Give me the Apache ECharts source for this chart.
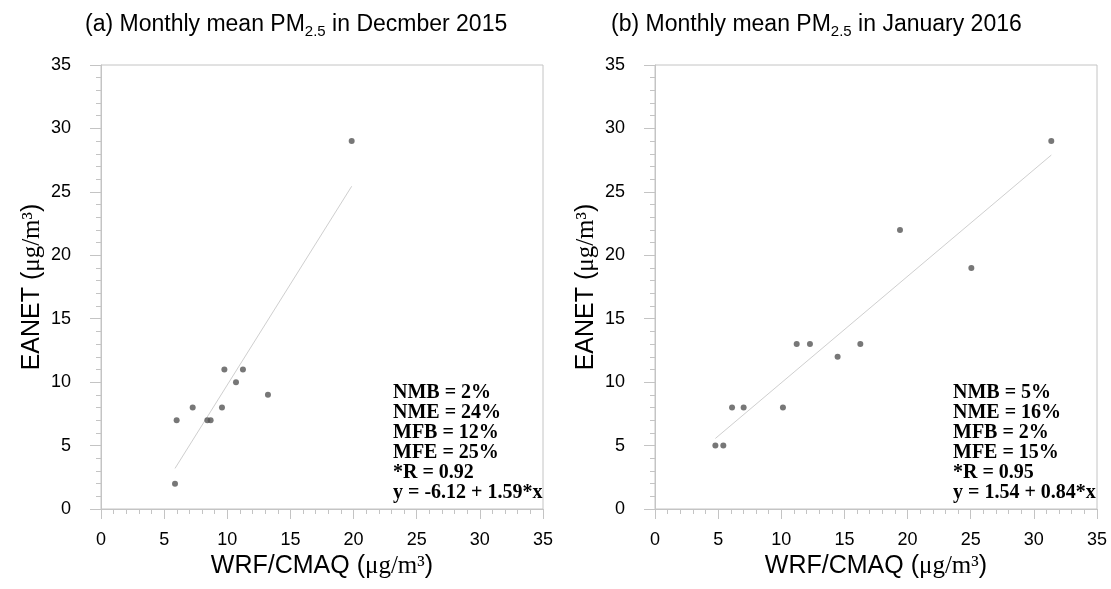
<!DOCTYPE html>
<html>
<head>
<meta charset="utf-8">
<title>PM2.5 WRF/CMAQ vs EANET</title>
<script src="https://cdn.jsdelivr.net/npm/echarts@6/dist/echarts.min.js"></script>
<style>
  html, body { margin: 0; padding: 0; background: #fff; }
  #main { width: 1111px; height: 589px; }
</style>
</head>
<body>
<div id="main"></div>
<script>
// (a) December 2015: [WRF/CMAQ, EANET]
var decPoints = [
    [19.85, 29], [9.77, 11], [11.24, 11], [10.69, 10], [13.22, 9],
    [7.26, 8], [9.58, 8], [5.99, 7], [8.42, 7], [8.68, 7], [5.86, 2]
];
var decFitLine = [[5.86, 3.20], [19.85, 25.44]];
var decStats = ['NMB = 2%', 'NME = 24%', 'MFB = 12%', 'MFE = 25%', '*R = 0.92', 'y = -6.12 + 1.59*x'];

// (b) January 2016
var janPoints = [
    [31.38, 29], [19.40, 22], [25.05, 19], [11.22, 13], [12.27, 13], [16.26, 13],
    [14.46, 12], [6.10, 8], [7.02, 8], [10.13, 8], [4.78, 5], [5.41, 5]
];
var janFitLine = [[4.78, 5.56], [31.38, 27.90]];
var janStats = ['NMB = 5%', 'NME = 16%', 'MFB = 2%', 'MFE = 15%', '*R = 0.95', 'y = 1.54 + 0.84*x'];

var axisMin = 0, axisMax = 35, axisStep = 5;

var frameColor = '#c4c4c4';
var sans = 'Liberation Sans';
var serif = 'Liberation Serif';

function makeXAxis(gridIndex) {
    return {
        type: 'value', gridIndex: gridIndex,
        min: axisMin, max: axisMax, interval: axisStep,
        name: 'WRF/CMAQ ({u|μg/m³})',
        nameLocation: 'middle', nameGap: 34,
        nameTextStyle: {
            color: '#000', fontSize: 25, fontFamily: sans,
            rich: { u: { fontSize: 25, fontFamily: serif, color: '#000' } }
        },
        axisLine: { lineStyle: { color: frameColor, width: 1 } },
        axisTick: { length: 10, lineStyle: { color: frameColor } },
        minorTick: { show: true, splitNumber: 5, length: 5, lineStyle: { color: frameColor } },
        axisLabel: { color: '#000', fontSize: 18, fontFamily: sans, margin: 22 },
        splitLine: { show: false }
    };
}

function makeYAxis(gridIndex) {
    return {
        type: 'value', gridIndex: gridIndex,
        min: axisMin, max: axisMax, interval: axisStep,
        name: 'EANET ({u|μg/m³})',
        nameLocation: 'middle', nameGap: 56,
        nameTextStyle: {
            color: '#000', fontSize: 25, fontFamily: sans,
            rich: { u: { fontSize: 25, fontFamily: serif, color: '#000' } }
        },
        axisLine: { lineStyle: { color: frameColor, width: 1 } },
        axisTick: { length: 11, lineStyle: { color: frameColor } },
        minorTick: { show: true, splitNumber: 5, length: 5, lineStyle: { color: frameColor } },
        axisLabel: { color: '#000', fontSize: 18, fontFamily: sans, margin: 30 },
        splitLine: { show: false }
    };
}

function statsTitle(lines, left) {
    return {
        text: lines.join('\n'),
        left: left, top: 383, padding: 0,
        textStyle: {
            fontFamily: serif, fontWeight: 'bold', fontSize: 20,
            lineHeight: 20, color: '#000'
        }
    };
}

function panelTitle(text, left) {
    return {
        text: text,
        left: left, top: 11, padding: 0,
        textStyle: {
            fontFamily: sans, fontWeight: 'normal', fontSize: 23, color: '#000',
            lineHeight: 28,
            rich: { sub: { fontSize: 15, fontFamily: sans, color: '#000', verticalAlign: 'bottom', lineHeight: 16 } }
        }
    };
}

var chart = echarts.init(document.getElementById('main'));
var option = {
    animation: false,
    backgroundColor: '#fff',
    title: [
        panelTitle('(a) Monthly mean PM{sub|2.5} in Decmber 2015', 85),
        panelTitle('(b) Monthly mean PM{sub|2.5} in January 2016', 611),
        statsTitle(decStats, 393),
        statsTitle(janStats, 953)
    ],
    grid: [
        { left: 101, top: 65, width: 442, height: 444, show: true, borderColor: frameColor, borderWidth: 1 },
        { left: 655, top: 65, width: 442, height: 444, show: true, borderColor: frameColor, borderWidth: 1 }
    ],
    xAxis: [makeXAxis(0), makeXAxis(1)],
    yAxis: [makeYAxis(0), makeYAxis(1)],
    series: [
        {
            type: 'line', xAxisIndex: 0, yAxisIndex: 0, data: decFitLine,
            showSymbol: false, lineStyle: { color: '#cfcfcf', width: 1 }, z: 2
        },
        {
            type: 'scatter', xAxisIndex: 0, yAxisIndex: 0, data: decPoints,
            symbolSize: 6, itemStyle: { color: '#555' }, z: 3
        },
        {
            type: 'line', xAxisIndex: 1, yAxisIndex: 1, data: janFitLine,
            showSymbol: false, lineStyle: { color: '#cfcfcf', width: 1 }, z: 2
        },
        {
            type: 'scatter', xAxisIndex: 1, yAxisIndex: 1, data: janPoints,
            symbolSize: 6, itemStyle: { color: '#555' }, z: 3
        }
    ]
};
chart.setOption(option);
</script>
</body>
</html>
